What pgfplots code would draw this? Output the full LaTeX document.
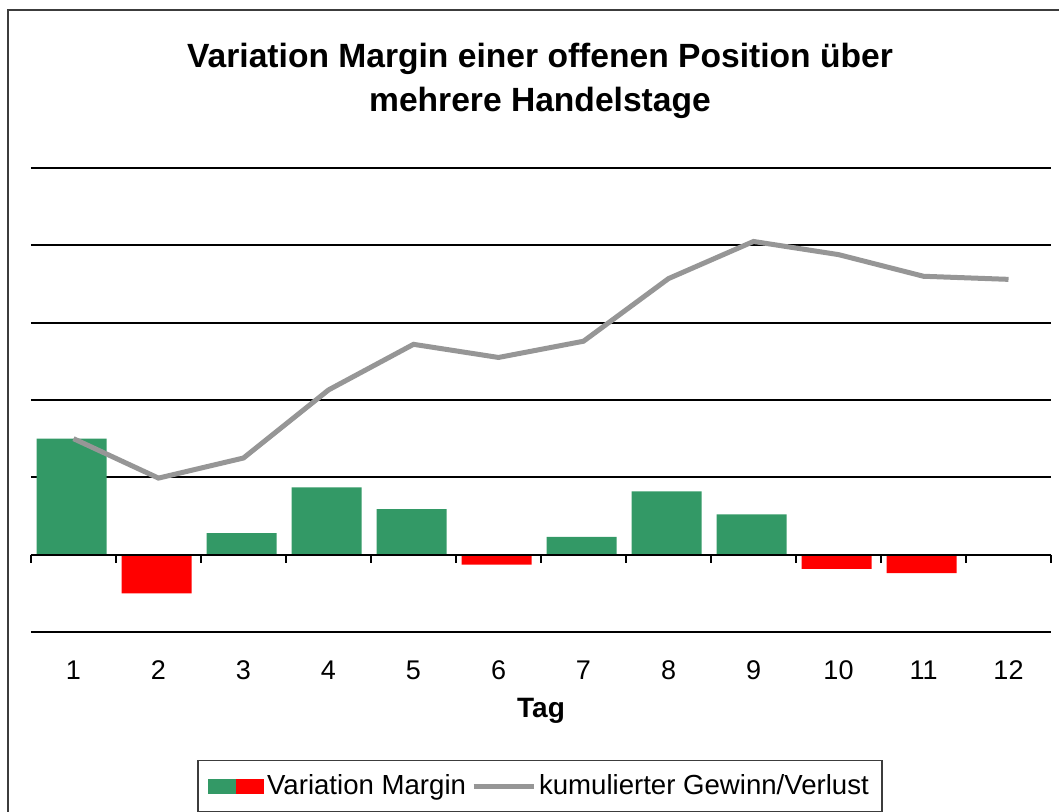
\documentclass[border=0pt]{standalone}
\usepackage{pgfplots}
\pgfplotsset{compat=1.18}
\usepackage{fontspec}
\setmainfont{Liberation Sans}
\definecolor{vmgreen}{RGB}{51,153,102}
\definecolor{vmred}{RGB}{255,0,0}
\definecolor{cumgray}{RGB}{150,150,150}
\definecolor{framegray}{RGB}{60,60,60}
\begin{document}
\begin{tikzpicture}
\useasboundingbox (0pt,0pt) rectangle (529.5pt,406pt);
\begin{scope}
\clip (0pt,0pt) rectangle (529.5pt,406pt);
\draw[line width=1.1pt, framegray] (4pt,-20pt) rectangle (560pt,401pt);
\end{scope}
\node[anchor=base, font=\fontsize{16.8}{20}\selectfont\bfseries] at (270pt,372pt) {Variation Margin einer offenen Position über};
\node[anchor=base, font=\fontsize{16.8}{20}\selectfont\bfseries] at (270pt,350pt) {mehrere Handelstage};
\begin{axis}[
  at={(15.5pt,90pt)}, anchor=south west,
  scale only axis, width=510pt, height=232pt,
  xmin=0.5, xmax=12.5, ymin=-1, ymax=5,
  axis line style={draw=none},
  xtick={1,...,12}, major tick length=0pt,
  ytick={-1,0,...,5}, yticklabels={},
  ymajorgrids, grid style={black, line width=0.9pt},
  /pgf/number format/assume math mode=true,
  xticklabel style={font=\fontsize{13.5}{16}\selectfont, anchor=base, yshift=-24pt},
  xlabel={Tag},
  xlabel style={font=\fontsize{14}{16}\selectfont\bfseries, at={(axis description cs:0.5,0)}, anchor=base, yshift=-43pt},
  clip=false,
  legend columns=2,
  legend style={at={(0.499,-0.332)}, anchor=center, draw=framegray, line width=0.8pt,
    font=\fontsize{13.8}{16}\selectfont, inner xsep=5pt, inner ysep=4pt,
    nodes={inner xsep=1.5pt, inner ysep=3pt},
    /tikz/every even column/.append style={column sep=1pt}},
]
\addplot[ybar, bar width=35pt, bar shift=-1pt, fill=vmgreen, draw=none,
  legend image code/.code={\fill[vmgreen] (0pt,-3.75pt) rectangle (14pt,3.75pt); \fill[vmred] (14pt,-3.75pt) rectangle (28pt,3.75pt);}]
  coordinates {(1,1.5) (3,0.28) (4,0.87) (5,0.59) (7,0.23) (8,0.82) (9,0.52)};
\addlegendentry{Variation Margin}
\addplot[ybar, bar width=35pt, bar shift=-1pt, fill=vmred, draw=none, forget plot]
  coordinates {(2,-0.5) (6,-0.13) (10,-0.185) (11,-0.24)};
\addplot[cumgray, line width=2.5pt, mark=none,
  legend image code/.code={\draw[cumgray, line width=2.5pt] (0pt,0pt) -- (30pt,0pt);}]
  coordinates {(1,1.5) (2,0.99) (3,1.25) (4,2.13) (5,2.72) (6,2.55) (7,2.76) (8,3.57) (9,4.05) (10,3.88) (11,3.6) (12,3.56)};
\addlegendentry{kumulierter Gewinn/Verlust}
\draw[black, line width=0.9pt] (axis cs:0.5,0) -- (axis cs:12.5,0);
\pgfplotsinvokeforeach{0.5,1.5,2.5,3.5,4.5,5.5,6.5,7.5,8.5,9.5,10.5,11.5,12.5}{
  \draw[black, line width=0.9pt] (axis cs:#1,0) -- ++(0pt,-4pt);
}
\end{axis}
\end{tikzpicture}
\end{document}
